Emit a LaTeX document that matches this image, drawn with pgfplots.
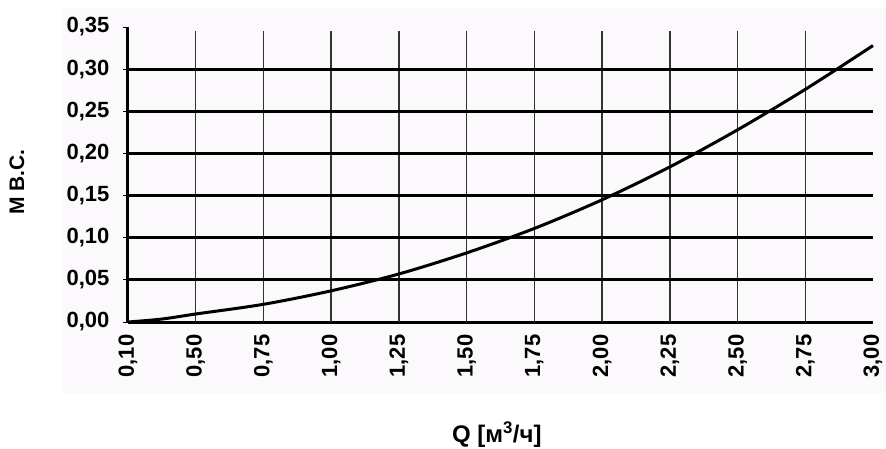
\documentclass[border=0pt]{standalone}
\usepackage{pgfplots}
\pgfplotsset{compat=1.18}
\usepackage{fontspec}
\setmainfont{Liberation Sans}
\definecolor{bgc}{HTML}{FBF9FB}
\begin{document}
\begin{tikzpicture}
\fill[bgc] (-66pt,-71pt) rectangle (758pt,314pt);
\begin{axis}[
  name=ax,
  at={(0,0)}, anchor=south west,
  scale only axis,
  width=745pt, height=295pt,
  xmin=0, xmax=11, ymin=0, ymax=0.35,
  axis lines=left,
  axis line style={-, line width=3pt, black},
  xtick={0,...,11},
  xticklabels={0{,}10,0{,}50,0{,}75,1{,}00,1{,}25,1{,}50,1{,}75,2{,}00,2{,}25,2{,}50,2{,}75,3{,}00},
  ytick={0,0.05,0.10,0.15,0.20,0.25,0.30,0.35},
  yticklabels={0{,}00,0{,}05,0{,}10,0{,}15,0{,}20,0{,}25,0{,}30,0{,}35},
  x tick label style={rotate=90, anchor=east, font=\fontsize{22}{26}\selectfont\bfseries, xshift=-4pt},
  y tick label style={font=\fontsize{22}{26}\selectfont\bfseries, xshift=-10pt},
  xtick style={draw=none},
  ytick style={black, line width=1pt},
  tick align=outside,
  major tick length=5pt,
  xlabel={Q [м\textsuperscript{3}/ч]},
  ylabel={М В.С.},
  xlabel style={at={(axis description cs:0.495,-0.383)}, anchor=center, font=\fontsize{24}{28}\selectfont\bfseries},
  ylabel style={at={(axis description cs:-0.149,0.475)}, anchor=center, font=\fontsize{21}{25}\selectfont\bfseries},
  clip=false,
]
% vertical grid lines (thin)
\foreach \i in {1,...,10} {
  \edef\temp{\noexpand\draw[black!80, line width=1.4pt] (axis cs:\i,0) -- (axis cs:\i,0.345);}
  \temp
}
% horizontal grid lines (thick)
\foreach \v in {0.05,0.10,0.15,0.20,0.25,0.30} {
  \edef\temp{\noexpand\draw[black, line width=3pt] (axis cs:0,\v) -- (axis cs:11,\v);}
  \temp
}
\addplot[black, line width=3pt, smooth] coordinates {
  (0,0) (0.5,0.0035) (1,0.0095) (2,0.021) (3,0.037) (4,0.057) (5,0.082)
  (6,0.111) (7,0.145) (8,0.184) (9,0.228) (10,0.276) (11,0.328)
};
\end{axis}
\pgfresetboundingbox
\path[use as bounding box] (-128pt,-126pt) rectangle (758pt,322pt);
\end{tikzpicture}
\end{document}
